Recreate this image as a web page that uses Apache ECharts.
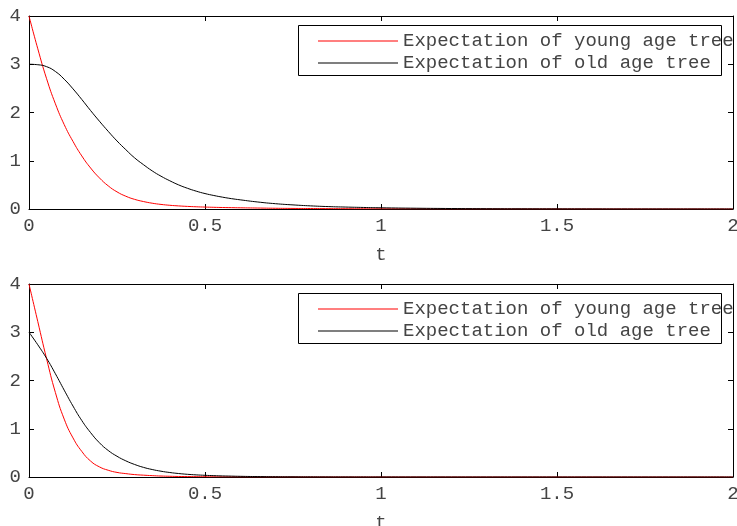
<!DOCTYPE html>
<html>
<head>
<meta charset="utf-8">
<script src="https://cdn.jsdelivr.net/npm/echarts@6/dist/echarts.min.js"></script>
<style>
html,body{margin:0;padding:0;background:#fff;}
#c{width:737px;height:526px;}
</style>
</head>
<body>
<div id="c"></div>
<script>
// ---- data ----
const seriesNames = ['Expectation of young age tree', 'Expectation of old age tree'];
const xTicks = [0, 0.5, 1, 1.5, 2];
const yTicks = [0, 1, 2, 3, 4];
const xTickLabels = ['0', '0.5', '1', '1.5', '2'];
const yTickLabels = ['0', '1', '2', '3', '4'];
const xAxisName = 't';

// sample times (same for both panels)
const tValues = [0, 0.025, 0.05, 0.075, 0.1, 0.125, 0.15, 0.175, 0.2, 0.225, 0.25, 0.275, 0.3, 0.325, 0.35, 0.375, 0.4, 0.425, 0.45, 0.475, 0.5, 0.525, 0.55, 0.575, 0.6,
                 0.65, 0.7, 0.75, 0.8, 0.85, 0.9, 0.95, 1.0,
                 1.1, 1.2, 1.3, 1.4, 1.5, 1.6, 1.7, 1.8, 1.9, 2.0];

// top panel
const youngTop = [4.00, 3.32, 2.70, 2.18, 1.75, 1.40, 1.10, 0.85, 0.645, 0.48, 0.355, 0.265, 0.20, 0.155, 0.12, 0.095, 0.077, 0.064, 0.054, 0.046, 0.04, 0.035, 0.031, 0.028, 0.025,
                  0.02, 0.015, 0.012, 0.01, 0.008, 0.006, 0.005, 0.004,
                  0.003, 0.002, 0.0015, 0.001, 0.0008, 0.0005, 0.0003, 0.0002, 0.0001, 0];
const oldTop   = [3.00, 2.99, 2.95, 2.85, 2.69, 2.49, 2.27, 2.04, 1.82, 1.61, 1.41, 1.23, 1.06, 0.92, 0.79, 0.68, 0.585, 0.50, 0.43, 0.37, 0.32, 0.28, 0.245, 0.215, 0.19,
                  0.145, 0.11, 0.085, 0.065, 0.05, 0.04, 0.032, 0.025,
                  0.016, 0.01, 0.006, 0.004, 0.003, 0.002, 0.001, 0.0008, 0.0004, 0];

// bottom panel
const youngBottom = [4.00, 3.22, 2.45, 1.75, 1.20, 0.81, 0.53, 0.33, 0.21, 0.14, 0.095, 0.07, 0.05, 0.038, 0.028, 0.02, 0.015, 0.011, 0.009, 0.007, 0.005, 0.004, 0.003, 0.0025, 0.002,
                     0.0015, 0.001, 0.0008, 0.0005, 0.0003, 0.0002, 0.0001, 0,
                     0, 0, 0, 0, 0, 0, 0, 0, 0, 0];
const oldBottom   = [3.00, 2.74, 2.46, 2.14, 1.80, 1.47, 1.17, 0.92, 0.71, 0.55, 0.43, 0.335, 0.26, 0.20, 0.155, 0.12, 0.093, 0.072, 0.056, 0.044, 0.035, 0.028, 0.022, 0.018, 0.014,
                     0.009, 0.006, 0.004, 0.003, 0.002, 0.0015, 0.001, 0.0008,
                     0.0005, 0.0003, 0.0002, 0.0001, 0, 0, 0, 0, 0, 0];

// ---- chart ----
const FONT = 'Liberation Mono';
const LABEL_COLOR = '#444444';
const PANEL_TOPS = [16, 284];
const grids = PANEL_TOPS.map(top => ({left: 29, right: 4, top: top, height: 193}));

function pairs(xs, ys){ return xs.map((x, i) => [x, ys[i]]); }

const xAxes = [], yAxes = [], series = [], legends = [], graphics = [];
const panels = [
  {young: youngTop, old: oldTop},
  {young: youngBottom, old: oldBottom}
];

panels.forEach((p, g) => {
  const axisLine = {show: true, onZero: false, lineStyle: {color: '#000', width: 1}};
  const tick = {show: true, inside: true, length: 5, lineStyle: {color: '#000', width: 1}};
  xAxes.push({
    type: 'value', gridIndex: g, position: 'bottom',
    min: xTicks[0], max: xTicks[xTicks.length - 1], interval: xTicks[1] - xTicks[0],
    axisLine, axisTick: tick, splitLine: {show: false},
    axisLabel: {
      show: true, color: LABEL_COLOR, fontFamily: FONT, fontSize: 19, margin: 7,
      showMinLabel: true, showMaxLabel: true, hideOverlap: false,
      formatter: v => { const i = xTicks.indexOf(v); return i >= 0 ? xTickLabels[i] : ''; }
    },
    name: xAxisName, nameLocation: 'middle', nameGap: 36,
    nameTextStyle: {color: LABEL_COLOR, fontFamily: FONT, fontSize: 19}
  });
  xAxes.push({
    type: 'value', gridIndex: g, position: 'top',
    min: xTicks[0], max: xTicks[xTicks.length - 1], interval: xTicks[1] - xTicks[0],
    axisLine, axisTick: tick, splitLine: {show: false}, axisLabel: {show: false}
  });
  yAxes.push({
    type: 'value', gridIndex: g, position: 'left',
    min: yTicks[0], max: yTicks[yTicks.length - 1], interval: yTicks[1] - yTicks[0],
    axisLine, axisTick: tick, splitLine: {show: false},
    axisLabel: {
      show: true, color: LABEL_COLOR, fontFamily: FONT, fontSize: 19, margin: 8,
      showMinLabel: true, showMaxLabel: true, hideOverlap: false,
      formatter: v => { const i = yTicks.indexOf(v); return i >= 0 ? yTickLabels[i] : ''; }
    }
  });
  yAxes.push({
    type: 'value', gridIndex: g, position: 'right',
    min: yTicks[0], max: yTicks[yTicks.length - 1], interval: yTicks[1] - yTicks[0],
    axisLine, axisTick: tick, splitLine: {show: false}, axisLabel: {show: false}
  });

  const xi = g * 2, yi = g * 2;
  series.push({
    name: seriesNames[0], type: 'line', xAxisIndex: xi, yAxisIndex: yi,
    data: pairs(tValues, p.young), showSymbol: false, symbol: 'none', smooth: 0.5,
    color: '#ff0000', lineStyle: {color: '#ff0000', width: 1}, itemStyle: {color: '#ff0000'},
    z: 2, animation: false
  });
  series.push({
    name: seriesNames[1], type: 'line', xAxisIndex: xi, yAxisIndex: yi,
    data: pairs(tValues, p.old), showSymbol: false, symbol: 'none', smooth: 0.5,
    color: '#000000', lineStyle: {color: '#000000', width: 1}, itemStyle: {color: '#000000'},
    z: 2, animation: false
  });

  const legendTop = PANEL_TOPS[g] + 9;
  // legend frame (decoration behind the legend)
  graphics.push({
    type: 'rect', x: 298, y: legendTop, z: 3, silent: true,
    shape: {x: 0.5, y: 0.5, width: 423, height: 50},
    style: {fill: '#ffffff', stroke: '#000000', lineWidth: 1}
  });
  legends.push({
    show: true, orient: 'vertical', left: 298, top: legendTop, z: 5,
    data: seriesNames,
    icon: 'path://M0,0H80V1H0Z', itemWidth: 80, itemHeight: 1, itemGap: 0,
    padding: [5, 4, 2, 20],
    borderWidth: 0, backgroundColor: 'transparent',
    selectedMode: false,
    textStyle: {color: LABEL_COLOR, fontFamily: FONT, fontSize: 19, lineHeight: 22}
  });
});

const chart = echarts.init(document.getElementById('c'), null, {renderer: 'canvas'});
chart.setOption({
  backgroundColor: '#ffffff',
  animation: false,
  grid: grids.map(g => Object.assign({outerBoundsMode: 'none', containLabel: false}, g)),
  xAxis: xAxes,
  yAxis: yAxes,
  legend: legends,
  graphic: graphics,
  series: series
});
</script>
</body>
</html>
